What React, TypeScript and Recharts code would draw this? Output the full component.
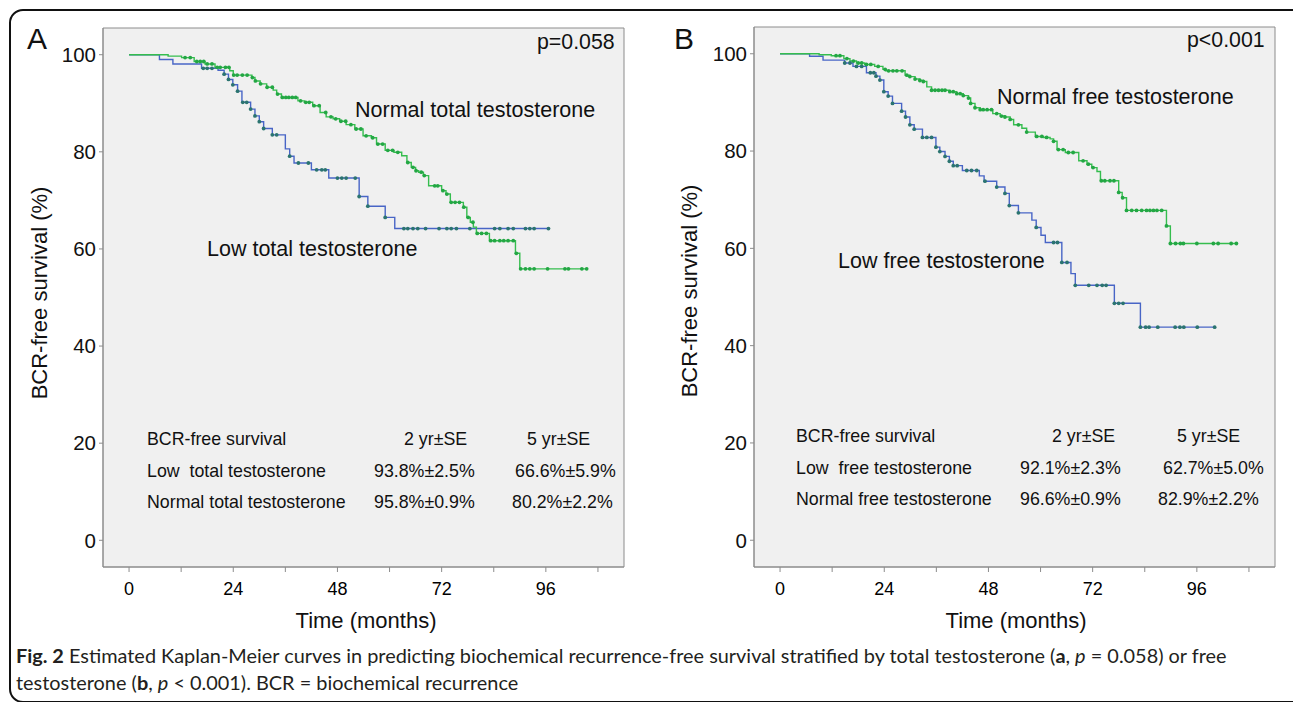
import React from "react";
import { LineChart, Line, XAxis, YAxis, CartesianGrid, ReferenceArea } from "recharts";

const monthTicks = [0, 12, 24, 36, 48, 60, 72, 84, 96, 108];
const labelledMonths = [0, 24, 48, 72, 96];
const survivalTicks = [0, 20, 40, 60, 80, 100];

// A: low total testosterone
const lowTotalTimes = [7, 10.1, 16.7, 20.5, 21.9, 22.9, 23.9, 25, 26, 28, 29, 30, 31, 33, 36, 37, 38, 42, 46, 53, 55, 59, 61.2];
const lowTotalSurv = [99.0, 98.1, 97.2, 96.8, 96.0, 94.9, 93.8, 92.5, 90.2, 88.8, 87.4, 86.2, 84.8, 83.5, 80.6, 79.1, 77.7, 76.3, 74.6, 70.8, 68.8, 66.5, 64.2];
const lowTotalCensored = [17.1, 18.0, 19.1, 21.9, 22.9, 23.9, 25, 26.2, 27.1, 28, 29, 30, 31, 33, 34, 37, 39, 41.3, 43.2, 44.4, 45.2, 48, 49, 50, 52.1, 53, 55, 59, 63.3, 64.2, 65.4, 66.5, 68.3, 71.4, 73.2, 74.2, 75.4, 78.5, 84.2, 85.4, 87.3, 88.5, 91.3, 92.3, 93.3, 96.6];

// A: normal total testosterone
const normalTotalTimes = [9, 12.1, 15, 17.5, 19.8, 23.2, 24, 28.3, 29, 30.2, 31.7, 33.2, 34, 35.1, 38.9, 40.4, 42.3, 44, 45.4, 47, 48.5, 50, 52, 53.9, 55.8, 57, 59, 61, 62.8, 64, 65, 66, 66.7, 67.8, 69, 72, 73, 74, 77, 77.8, 78.6, 79.3, 80, 83, 89, 90];
const normalTotalSurv = [99.7, 99.4, 98.6, 98.1, 97.4, 96.7, 95.8, 95.3, 94.6, 94.0, 93.3, 92.7, 91.9, 91.2, 90.5, 90.2, 89.5, 88.1, 87.2, 86.8, 86.3, 85.6, 84.7, 83.3, 82.9, 81.6, 80.3, 79.9, 79.2, 77.8, 76.8, 76.1, 75.8, 75.1, 73.0, 72.0, 71.3, 69.6, 68.6, 66.5, 65.5, 64.5, 63.2, 61.7, 59.1, 55.9];
const normalTotalCensored = [12.9, 14.1, 15.6, 16.4, 17.2, 18.0, 19.1, 20.3, 21.0, 22.2, 23.0, 24.1, 24.9, 26.1, 27.2, 28.4, 29.1, 30.3, 31.8, 33.0, 34.2, 35.3, 36.1, 36.8, 37.6, 38.4, 39.5, 40.7, 41.5, 42.6, 43.8, 45.3, 46.5, 47.6, 48.8, 49.9, 51.1, 52.3, 53.4, 54.6, 56.1, 57.3, 58.4, 59.6, 60.7, 61.9, 64.2, 65.4, 66.1, 67.3, 68.0, 70.4, 71.1, 72.3, 73.2, 74.2, 75.1, 76.1, 77.1, 78.1, 79.2, 80.2, 81.2, 82.3, 83.3, 84.2, 85.4, 86.3, 87.3, 88.5, 89.2, 90.2, 91.3, 92.3, 93.3, 96.4, 100.4, 101.2, 104.3, 105.4];

// B: low free testosterone
const lowFreeTimes = [6.8, 9.9, 14.9, 16.8, 19.9, 22.1, 23, 23.9, 24.9, 25.9, 28, 28.9, 29.9, 30.9, 32.8, 35.9, 36.8, 38, 39, 39.9, 42, 45.9, 47, 49.9, 51.8, 52.8, 54.9, 58, 59, 60.1, 61.1, 64.9, 67, 68, 77, 83];
const lowFreeSurv = [99.5, 98.7, 98.1, 97.4, 96.1, 95.4, 94.6, 92.2, 91.3, 89.8, 88.2, 87.0, 85.4, 84.5, 82.8, 80.8, 79.9, 78.9, 77.9, 77.0, 76.0, 74.9, 73.8, 72.6, 71.3, 68.8, 67.3, 65.8, 64.3, 62.7, 61.2, 57.1, 54.8, 52.4, 48.7, 43.8];
const lowFreeCensored = [14.9, 16.1, 17.6, 18.8, 20.8, 21.6, 22.1, 23, 23.9, 24.9, 25.9, 28, 28.9, 29.9, 30.9, 32.8, 33.8, 34.9, 35.9, 36.8, 38, 39, 39.9, 40.8, 43, 44.1, 45.3, 47.2, 49.9, 51.8, 52.8, 54.9, 59, 63, 63.9, 64.9, 66.1, 68, 71.1, 73, 74.2, 75.1, 77, 78, 79, 83, 84.2, 85, 87, 91, 92.1, 93, 96.1, 100.1];

// B: normal free testosterone
const normalFreeTimes = [9, 11.8, 14.7, 16.1, 17.6, 19.5, 21.8, 23.7, 24.3, 28.8, 29.9, 31.1, 32.2, 33, 33.8, 34.9, 39.1, 40.7, 42.2, 43.4, 43.9, 44.9, 46.1, 49, 50.7, 51.8, 53, 53.8, 55.7, 56.8, 58.8, 60.7, 62.2, 63, 63.8, 65.7, 68.8, 70.7, 71.8, 73, 73.8, 78, 78.8, 79.8, 89, 89.9];
const normalFreeSurv = [99.8, 99.6, 99.0, 98.5, 98.1, 97.8, 97.4, 96.8, 96.5, 95.6, 95.3, 94.8, 94.5, 94.3, 93.2, 92.5, 92.2, 91.8, 91.4, 90.9, 89.8, 88.9, 88.5, 87.7, 87.2, 87.0, 86.5, 85.4, 84.7, 83.9, 83.0, 82.8, 82.5, 82.0, 80.3, 79.7, 78.0, 77.3, 76.6, 75.8, 73.9, 71.5, 70.4, 67.8, 64.6, 61.0];
const normalFreeCensored = [12.9, 13.8, 15.4, 16.9, 18.0, 18.8, 19.9, 20.9, 22.6, 24.2, 25.0, 26.0, 26.9, 28.1, 29.2, 29.9, 31.1, 32.2, 33.0, 34.9, 35.7, 36.5, 37.3, 38.0, 39.1, 39.9, 40.7, 41.5, 42.2, 43.4, 43.9, 44.9, 46.1, 46.8, 47.7, 48.7, 49.9, 51.0, 51.8, 53.0, 54.9, 56.8, 59.1, 60.3, 61.4, 63.0, 64.1, 65.2, 66.4, 67.5, 69.8, 71.0, 72.1, 74.0, 74.8, 76.0, 76.9, 78.0, 78.9, 79.8, 81.0, 82.1, 83.3, 84.4, 85.2, 86.0, 86.8, 87.9, 89.0, 89.9, 91.1, 92.2, 92.9, 96.0, 99.8, 100.9, 103.9, 105.1];

const tableHeader = ["BCR-free survival", "2 yr\u00b1SE", "5 yr\u00b1SE"];
const tableTotal = [
  ["Low  total testosterone", "93.8%\u00b12.5%", "66.6%\u00b15.9%"],
  ["Normal total testosterone", "95.8%\u00b10.9%", "80.2%\u00b12.2%"],
];
const tableFree = [
  ["Low  free testosterone", "92.1%\u00b12.3%", "62.7%\u00b15.0%"],
  ["Normal free testosterone", "96.6%\u00b10.9%", "82.9%\u00b12.2%"],
];

const FONT = "'Liberation Sans', Arial, sans-serif";
const GREEN = "#35bd4e";
const GREEN_DOT = "#23a744";
const BLUE = "#4865c6";
const BLUE_DOT = "#2b7470";
const TABLE_FS = 17.8;
const LABEL_FS = 21.5;

type Pt = { t: number; s: number; c?: number };

// step points plus censor marks sitting on the current level
function kmPoints(times: number[], surv: number[], censored: number[]): Pt[] {
  const pts: Pt[] = [{ t: 0, s: 100 }];
  times.forEach((t, i) => pts.push({ t, s: surv[i] }));
  censored.forEach((t) => {
    let s = 100;
    times.forEach((tt, i) => {
      if (tt <= t) s = surv[i];
    });
    pts.push({ t, s, c: 1 });
  });
  pts.sort((a, b) => a.t - b.t || (a.c ? 1 : 0) - (b.c ? 1 : 0));
  return pts;
}

const censorDot = (color: string) => (props: any) => {
  const { cx, cy, payload, index } = props;
  if (!payload || !payload.c) return <g key={`n${index}`} />;
  return <circle key={`c${index}`} cx={cx} cy={cy} r={1.9} fill={color} stroke="none" />;
};

function Txt({ x, y, fs, children, anchor = "start", style }: any) {
  const tx = anchor === "middle" ? "translateX(-50%)" : anchor === "end" ? "translateX(-100%)" : undefined;
  return (
    <div
      style={{
        position: "absolute",
        left: x,
        top: y - 0.49 * fs,
        fontSize: fs,
        lineHeight: 1,
        whiteSpace: "pre",
        fontFamily: FONT,
        color: "#111",
        transform: tx,
        ...style,
      }}
    >
      {children}
    </div>
  );
}

function YTitle({ x, y }: { x: number; y: number }) {
  return (
    <div
      style={{
        position: "absolute",
        left: x,
        top: y,
        fontSize: 22,
        lineHeight: 1,
        whiteSpace: "nowrap",
        fontFamily: FONT,
        color: "#111",
        transform: "translate(-50%,-50%) rotate(-90deg)",
      }}
    >
      BCR-free survival (%)
    </div>
  );
}

function KMPanel({ left, top, low, normal }: { left: number; top: number; low: Pt[]; normal: Pt[] }) {
  return (
    <div style={{ position: "absolute", left, top: 0 }}>
      <LineChart width={634} height={608} margin={{ top, right: 10, bottom: 0, left: 0 }}>
        <CartesianGrid horizontal={false} vertical={false} fill="#f0f0f0" />
        <XAxis
          dataKey="t"
          type="number"
          domain={[-6, 114]}
          allowDataOverflow
          ticks={monthTicks}
          interval={0}
          tickFormatter={(v: number) => (labelledMonths.includes(v) ? String(v) : "")}
          height={608 - 567}
          stroke="#8c8c8c"
          tickSize={5}
          tickMargin={10}
          tick={{ fontSize: 18, fill: "#000", fontFamily: FONT }}
        />
        <YAxis
          type="number"
          domain={[-5.5, 105.5]}
          allowDataOverflow
          ticks={survivalTicks}
          interval={0}
          width={103}
          stroke="#8c8c8c"
          tickSize={4}
          tickMargin={3}
          tick={{ fontSize: 20.5, fill: "#111", fontFamily: FONT }}
        />
        <Line
          data={low}
          dataKey="s"
          type="stepAfter"
          stroke={BLUE}
          strokeWidth={1.4}
          dot={censorDot(BLUE_DOT)}
          activeDot={false}
          isAnimationActive={false}
        />
        <Line
          data={normal}
          dataKey="s"
          type="stepAfter"
          stroke={GREEN}
          strokeWidth={1.4}
          dot={censorDot(GREEN_DOT)}
          activeDot={false}
          isAnimationActive={false}
        />
        <ReferenceArea x1={-6} x2={114} y1={-5.5} y2={105.5} fill="none" stroke="#8c8c8c" strokeWidth={1} />
      </LineChart>
    </div>
  );
}

function Table({ x, cols, rows, ys }: any) {
  return (
    <>
      <Txt x={x} y={ys[0]} fs={TABLE_FS}>{tableHeader[0]}</Txt>
      <Txt x={cols[0]} y={ys[0]} fs={TABLE_FS}>{tableHeader[1]}</Txt>
      <Txt x={cols[2]} y={ys[0]} fs={TABLE_FS}>{tableHeader[2]}</Txt>
      {rows.map((r: string[], i: number) => (
        <React.Fragment key={i}>
          <Txt x={x} y={ys[i + 1]} fs={TABLE_FS}>{r[0]}</Txt>
          <Txt x={cols[1]} y={ys[i + 1]} fs={TABLE_FS}>{r[1]}</Txt>
          <Txt x={cols[3 + i]} y={ys[i + 1]} fs={TABLE_FS}>{r[2]}</Txt>
        </React.Fragment>
      ))}
    </>
  );
}

export default function App() {
  const lowTotal = kmPoints(lowTotalTimes, lowTotalSurv, lowTotalCensored);
  const normalTotal = kmPoints(normalTotalTimes, normalTotalSurv, normalTotalCensored);
  const lowFree = kmPoints(lowFreeTimes, lowFreeSurv, lowFreeCensored);
  const normalFree = kmPoints(normalFreeTimes, normalFreeSurv, normalFreeCensored);

  const capStyle = { fontFamily: "Lato, 'DejaVu Sans Condensed', sans-serif", color: "#231f20" };

  return (
    <div style={{ position: "relative", width: 1293, height: 702, overflow: "hidden", background: "#fff" }}>
      <style>{"body{margin:0}"}</style>
      <div
        style={{
          position: "absolute",
          left: 9,
          top: 9,
          width: 1320,
          height: 690,
          border: "2px solid #111",
          borderTopLeftRadius: 14,
          borderBottomLeftRadius: 14,
        }}
      />

      <KMPanel left={0} top={28} low={lowTotal} normal={normalTotal} />
      <KMPanel left={651} top={27} low={lowFree} normal={normalFree} />

      {/* panel A texts */}
      <Txt x={27} y={39} fs={30}>A</Txt>
      <Txt x={537} y={42} fs={21.3}>p=0.058</Txt>
      <Txt x={355} y={110.5} fs={LABEL_FS}>Normal total testosterone</Txt>
      <Txt x={207} y={250} fs={LABEL_FS}>Low total testosterone</Txt>
      <Txt x={366} y={621} fs={22} anchor="middle">Time (months)</Txt>
      <YTitle x={40} y={293} />
      <Table x={147} cols={[404, 374, 527, 515, 512]} rows={tableTotal} ys={[440, 472, 502.5]} />

      {/* panel B texts */}
      <Txt x={674} y={39} fs={30}>B</Txt>
      <Txt x={1187} y={40} fs={21.3}>p&lt;0.001</Txt>
      <Txt x={997} y={98} fs={LABEL_FS}>Normal free testosterone</Txt>
      <Txt x={838} y={262} fs={LABEL_FS}>Low free testosterone</Txt>
      <Txt x={1016} y={621} fs={22} anchor="middle">Time (months)</Txt>
      <YTitle x={690} y={291} />
      <Table x={796} cols={[1052, 1020, 1177, 1163, 1158]} rows={tableFree} ys={[437, 469, 500]} />

      {/* caption */}
      <Txt x={16} y={656} fs={19.9} style={capStyle}>
        <b>Fig. 2</b> Estimated Kaplan-Meier curves in predicting biochemical recurrence-free survival stratified by total testosterone (<b>a</b>, <i>p</i> = 0.058) or free
      </Txt>
      <Txt x={16} y={683} fs={19.9} style={capStyle}>
        testosterone (<b>b</b>, <i>p</i> &lt; 0.001). BCR = biochemical recurrence
      </Txt>
    </div>
  );
}
